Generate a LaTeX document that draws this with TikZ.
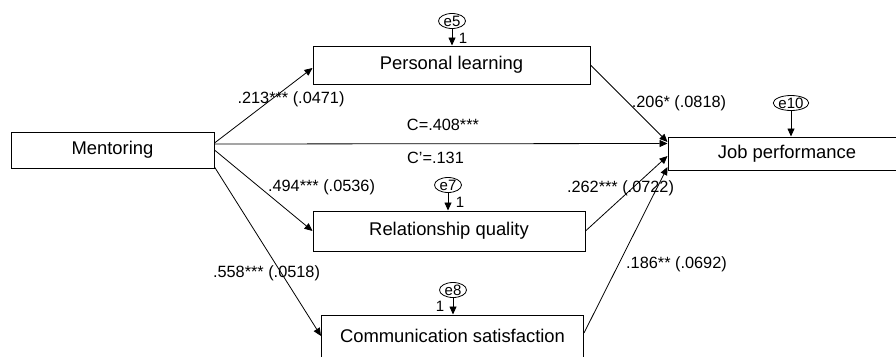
\documentclass[tikz,border=0pt]{standalone}
\usepackage{fontspec}
\setmainfont{Liberation Sans}
\usetikzlibrary{arrows.meta,shapes.geometric}
\begin{document}
\begin{tikzpicture}[x=1pt,y=-1pt,
  box/.style={draw, line width=1pt, rectangle, inner sep=0pt, font=\fontsize{18.4}{20}\selectfont},
  err/.style={draw, ellipse, line width=0.8pt, inner sep=0pt, text height=10.5pt, text depth=0pt,
              minimum width=27pt, minimum height=15pt, font=\fontsize{15}{16}\selectfont},
  lbl/.style={inner sep=0pt, font=\fontsize{16.3}{18}\selectfont},
  one/.style={inner sep=0pt, font=\fontsize{15}{16}\selectfont},
  arr/.style={-{Triangle[length=8pt,width=7pt]}, line width=0.8pt}]
\clip (0,0) rectangle (896,356);
\fill[white] (0,0) rectangle (896,356);
% boxes
\node[box, minimum width=203pt, minimum height=36pt] (M)  at (112.5,150) {Mentoring};
\node[box, minimum width=277pt, minimum height=38pt] (PL) at (451.5,65)  {Personal learning};
\node[box, minimum width=272pt, minimum height=40pt] (RQ) at (449,231)   {Relationship quality};
\node[box, minimum width=262pt, minimum height=42pt] (CS) at (452.5,336) {Communication satisfaction};
\node[box, minimum width=238pt, minimum height=33pt] (JP) at (787,153.5) {Job performance};
% error terms
\node[err] (e5)  at (452,21)  {e5};
\node[err] (e7)  at (448,185) {e7};
\node[err] (e8)  at (453,290) {e8};
\node[err] (e10) at (791,103) {e10};
\draw[arr] (e5)  -- (e5 |- PL.north);
\draw[arr] (e7)  -- (e7 |- RQ.north);
\draw[arr] (e8)  -- (e8 |- CS.north);
\draw[arr] (e10) -- (e10 |- JP.north);
\node[one] (o5) at (463,38)  {1};
\node[one] (o7) at (460,202) {1};
\node[one] (o8) at (440,306) {1};
% paths
\draw[arr] ([yshift=7pt]M.east)   -- ([yshift=-3pt]PL.west);
\draw[arr] ([yshift=6pt]M.east)   -- ([yshift=10pt]JP.west);
\draw[arr] (M.east)               -- (RQ.west);
\draw[arr] ([yshift=-17pt]M.east) -- (CS.west);
\draw[arr] (PL.east)              -- ([yshift=11.5pt]JP.west);
\draw[arr] (RQ.east)              -- ([yshift=-2.5pt]JP.west);
\draw[arr] ([yshift=3pt]CS.east)  -- ([yshift=-13.5pt]JP.west);
% labels
\node[lbl] (l1) at (291,99)    {.213*** (.0471)};
\node[lbl] (l2) at (443,125)   {C=.408***};
\node[lbl] (l3) at (435.5,158) {C’=.131};
\node[lbl] (l4) at (321.5,187) {.494*** (.0536)};
\node[lbl] (l5) at (620.5,188) {.262*** (.0722)};
\node[lbl] (l6) at (266.5,273) {.558*** (.0518)};
\node[lbl] (l7) at (679,103)   {.206* (.0818)};
\node[lbl] (l8) at (676.5,264) {.186** (.0692)};
\end{tikzpicture}
\end{document}
